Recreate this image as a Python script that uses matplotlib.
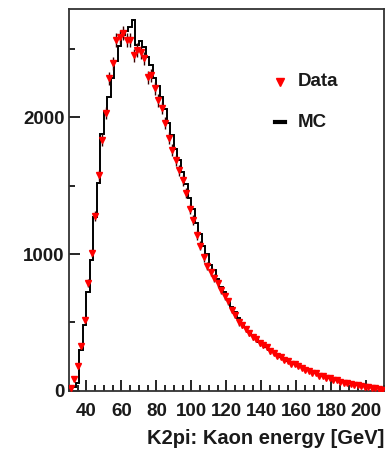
#!/usr/bin/env python3
"""
K2pi kaon energy spectrum: data points vs MC histogram.
"""
import matplotlib
matplotlib.use("Agg")
import matplotlib.pyplot as plt
import numpy as np

# binning: 2 GeV bins from 30 to 210 GeV
bin_lo = 30
bin_hi = 210
bin_w = 2

# data counts per bin (bin centres 31, 33, ... 209)
data_counts = [20, 85, 182, 328, 518, 786, 1007, 1277, 1577, 1832,
               2029, 2285, 2394, 2562, 2584, 2613, 2562, 2562, 2452, 2489,
               2474, 2430, 2292, 2306, 2212, 2124, 2066, 1960, 1850, 1760,
               1686, 1613, 1540, 1445, 1330, 1250, 1140, 1060, 975, 915,
               870, 825, 785, 735, 690, 655, 590, 555, 500, 485,
               450, 425, 395, 380, 350, 335, 320, 290, 280, 255,
               248, 228, 222, 200, 198, 180, 170, 150, 148, 132,
               128, 112, 110, 95, 92, 78, 76, 68, 58, 57,
               48, 45, 40, 35, 30, 27, 22, 19, 14, 10]

# MC counts per bin
mc_counts = [10, 25, 55, 300, 480, 720, 960, 1270, 1520, 1880,
             2040, 2150, 2290, 2410, 2520, 2600, 2630, 2660, 2710, 2530,
             2560, 2510, 2440, 2380, 2290, 2230, 2150, 2060, 1960, 1870,
             1770, 1690, 1600, 1510, 1410, 1330, 1230, 1150, 1060, 1000,
             920, 880, 820, 760, 720, 670, 615, 575, 530, 495,
             470, 435, 405, 385, 360, 345, 320, 300, 285, 265,
             250, 238, 220, 207, 195, 183, 171, 160, 150, 140,
             130, 121, 112, 104, 96, 88, 81, 74, 67, 61,
             55, 49, 44, 39, 34, 30, 26, 22, 18, 14]

x_ticks = [40, 60, 80, 100, 120, 140, 160, 180, 200]
y_ticks = [0, 1000, 2000]

FONT = "Liberation Sans"
TXT = "#1a1a1a"


def make_plot():
    edges = np.arange(bin_lo, bin_hi + bin_w, bin_w)
    centres = edges[:-1] + bin_w / 2
    data = np.array(data_counts, dtype=float)
    mc = np.array(mc_counts, dtype=float)

    fig = plt.figure(figsize=(3.87, 4.54), dpi=100)
    ax = fig.add_axes([0.178, 0.139, 0.814, 0.841])

    ax.stairs(mc, edges, color="black", lw=1.4, zorder=2)
    ax.errorbar(centres, data, yerr=np.sqrt(data), fmt="v", color="red",
                ms=4, mec="red", ecolor="#3a0000", elinewidth=1.0,
                capsize=0, zorder=3)

    ax.set_xlim(bin_lo, bin_hi)
    ax.set_ylim(0, 2790)
    ax.set_xticks(x_ticks)
    ax.set_xticks(np.arange(30, 211, 5), minor=True)
    ax.set_yticks(y_ticks)
    ax.set_yticks([500, 1500, 2500], minor=True)

    ax.tick_params(which="both", direction="in", top=False, right=False,
                   width=1.2, colors="black")
    ax.tick_params(which="major", length=8)
    ax.tick_params(which="minor", length=4)
    ax.tick_params(axis="x", which="major", pad=9)
    ax.tick_params(axis="y", which="major", pad=3)
    for lab in ax.get_xticklabels() + ax.get_yticklabels():
        lab.set_fontfamily(FONT)
        lab.set_fontweight("bold")
        lab.set_fontsize(13.5)
        lab.set_color(TXT)
    for sp in ax.spines.values():
        sp.set_linewidth(1.3)
        sp.set_color("#333333")

    ax.set_xlabel("K2pi: Kaon energy [GeV]", loc="right", fontsize=14.5,
                  fontweight="bold", family=FONT, color=TXT, labelpad=6)

    # legend drawn by hand
    ax.plot([0.67], [0.81], "v", color="red", ms=6, transform=ax.transAxes)
    ax.text(0.725, 0.81, "Data", transform=ax.transAxes, va="center",
            ha="left", fontsize=13.5, fontweight="bold", family=FONT,
            color=TXT)
    ax.plot([0.655, 0.685], [0.703, 0.703], color="black", lw=3,
            transform=ax.transAxes)
    ax.text(0.725, 0.703, "MC", transform=ax.transAxes, va="center",
            ha="left", fontsize=13.5, fontweight="bold", family=FONT,
            color=TXT)

    fig.savefig("out.png", dpi=100)


def main():
    make_plot()


if __name__ == "__main__":
    main()
